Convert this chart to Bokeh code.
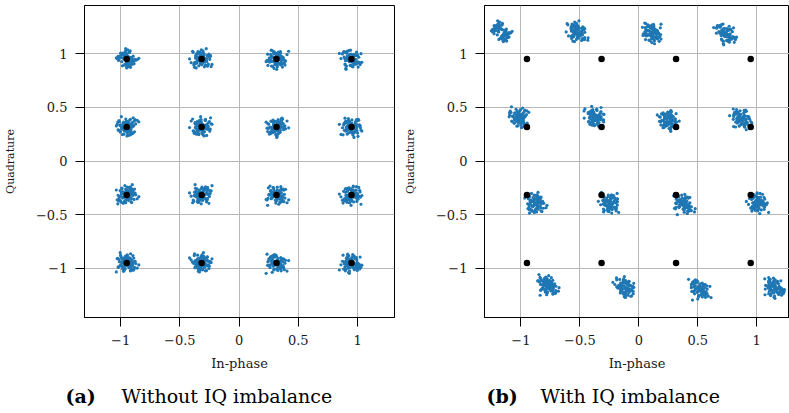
import numpy as np
from bokeh.plotting import figure
from bokeh.layouts import row, column
from bokeh.models import Range1d, FixedTicker, CustomJSTickFormatter, Label
from bokeh.embed import file_html
from bokeh.resources import INLINE

# ---------------- data ----------------
tick_values = [-1, -0.5, 0, 0.5, 1]

# ideal 16-QAM constellation points (black dots)
ideal_i = [-0.949, -0.316, 0.316, 0.949,
           -0.949, -0.316, 0.316, 0.949,
           -0.949, -0.316, 0.316, 0.949,
           -0.949, -0.316, 0.316, 0.949]
ideal_q = [0.949, 0.949, 0.949, 0.949,
           0.316, 0.316, 0.316, 0.316,
           -0.316, -0.316, -0.316, -0.316,
           -0.949, -0.949, -0.949, -0.949]

# received cluster centres with IQ imbalance
imb_i = [-1.168, -0.522, 0.110, 0.741,
         -1.017, -0.370, 0.247, 0.870,
         -0.877, -0.245, 0.374, 1.008,
         -0.775, -0.115, 0.514, 1.150]
imb_q = [1.200, 1.200, 1.195, 1.185,
         0.400, 0.405, 0.380, 0.395,
         -0.395, -0.395, -0.395, -0.385,
         -1.160, -1.180, -1.190, -1.174]

# scatter pattern of the received samples around a cluster centre (x 0.001)
noise_dx = [12, -25, 31, -8, 44, -37, 5, 19, -52, 27, -14, 38, -3, 61, -29, 9, -41, 22, -17, 33,
            -6, 48, -58, 14, -21, 2, 35, -45, 26, -11, 71, -33, 7, -19, 40, -64, 18, -2, 29, -36,
            53, -9, 15, -27, 4, -49, 37, -15, 24, -70, 10, 57, -23, 1, -39, 30, -12, 45, -5, 21,
            -31, 8, 82, -44, 16, -26, 34, -7, 50, -18, 3, -55, 25, -34, 13, 42, -1, -60, 28, -10]
noise_dy = [-18, 34, 7, -42, 21, 11, -29, 52, 3, -15, 39, -36, 26, -9, -51, 17, 44, -4, 30, -23,
            58, -12, 19, -47, 6, 37, -31, 14, -62, 28, -5, -20, 69, 10, -38, 2, 48, -27, -13, 33,
            -8, 23, -56, 41, -33, 15, 4, -44, 60, 9, -21, -3, 36, -66, 27, 13, -40, -16, 50, -7,
            31, -53, 5, 20, -25, 45, -14, 77, -35, 1, 24, -11, -45, 38, 16, -30, -58, 8, -2, 55]

caption_labels = ["(a)", "(b)"]
caption_texts = ["Without IQ imbalance", "With IQ imbalance"]

# ---------------- build sample clouds ----------------
ndx = np.array(noise_dx) * 0.001
ndy = np.array(noise_dy) * 0.001
n = len(ndx)


def cloud(k):
    sx = 1 if k % 2 == 0 else -1
    sy = 1 if (k // 2) % 2 == 0 else -1
    idx = (np.arange(n) + 7 * k) % n
    return sx * ndx, sy * ndy[idx]


left_x, left_y, right_x, right_y = [], [], [], []
for k in range(16):
    ex, ey = cloud(k)
    left_x.append(ideal_i[k] + 1.25 * ex)
    left_y.append(ideal_q[k] + 1.25 * ey)
    right_x.append(imb_i[k] + 1.15 * ex - 0.28 * ey)
    right_y.append(imb_q[k] + 1.35 * ey)
left_x = np.concatenate(left_x); left_y = np.concatenate(left_y)
right_x = np.concatenate(right_x); right_y = np.concatenate(right_y)

FONT = "DejaVu Serif"
minus_fmt = "return tick < 0 ? '\\u2212' + Math.abs(tick) : String(tick);"


def make_fig(xr, width, mb_left, mb_right, sx, sy):
    p = figure(width=width, height=380, x_range=Range1d(*xr), y_range=Range1d(-1.456, 1.447),
               output_backend="svg", toolbar_location=None,
               min_border_left=mb_left, min_border_right=mb_right,
               min_border_top=5, min_border_bottom=63)
    p.background_fill_color = "white"
    p.border_fill_color = "white"
    p.outline_line_color = "black"
    p.outline_line_width = 1
    p.outline_line_alpha = 1.0
    for ax in (p.xaxis[0], p.yaxis[0]):
        ax.ticker = FixedTicker(ticks=tick_values)
        ax.formatter = CustomJSTickFormatter(code=minus_fmt)
        ax.axis_line_color = "black"
        ax.major_tick_line_color = "black"
        ax.major_tick_out = 9
        ax.major_tick_in = 0
        ax.minor_tick_line_color = None
        ax.major_label_text_font = FONT
        ax.major_label_text_font_size = "13px"
        ax.major_label_text_color = "#1a1a1a"
        ax.axis_label_text_font = FONT
        ax.axis_label_text_font_style = "normal"
        ax.axis_label_text_color = "#1a1a1a"
    p.xaxis.axis_label = "In-phase"
    p.xaxis.axis_label_text_font_size = "13px"
    p.xaxis.major_label_standoff = 8
    p.xaxis.axis_label_standoff = 8
    p.yaxis.axis_label = "Quadrature"
    p.yaxis.axis_label_text_font_size = "11px"
    p.yaxis.major_label_standoff = 8
    p.yaxis.axis_label_standoff = 16
    p.grid.grid_line_color = "#b8b8b8"
    p.grid.grid_line_width = 1

    p.scatter(sx, sy, size=3.2, color="#1f77b4", line_color=None)
    p.scatter(ideal_i, ideal_q, size=6.5, color="black", line_color=None)
    return p


p1 = make_fig((-1.305, 1.312), 400, 83, 6, left_x, left_y)
p2 = make_fig((-1.309, 1.278), 389, 82, 0, right_x, right_y)

# caption strip (pixels as data units)
cap = figure(width=789, height=32, x_range=Range1d(0, 789), y_range=Range1d(0, 32),
             output_backend="svg", toolbar_location=None,
             min_border_left=0, min_border_right=0, min_border_top=0, min_border_bottom=0)
cap.axis.visible = False
cap.grid.visible = False
cap.outline_line_color = None
cap.background_fill_color = "white"
cap.border_fill_color = "white"
lab_x = [65, 486]
txt_x = [121, 540]
for j in range(2):
    cap.add_layout(Label(x=lab_x[j], y=16.5, text=caption_labels[j], text_font=FONT,
                         text_font_size="19px", text_font_style="bold",
                         text_color="black", text_baseline="middle"))
    cap.add_layout(Label(x=txt_x[j], y=16.5, text=caption_texts[j], text_font=FONT,
                         text_font_size="19px", text_color="black",
                         text_baseline="middle"))

layout = column(row(p1, p2), cap)
open("out.html", "w").write(file_html(layout, INLINE))
